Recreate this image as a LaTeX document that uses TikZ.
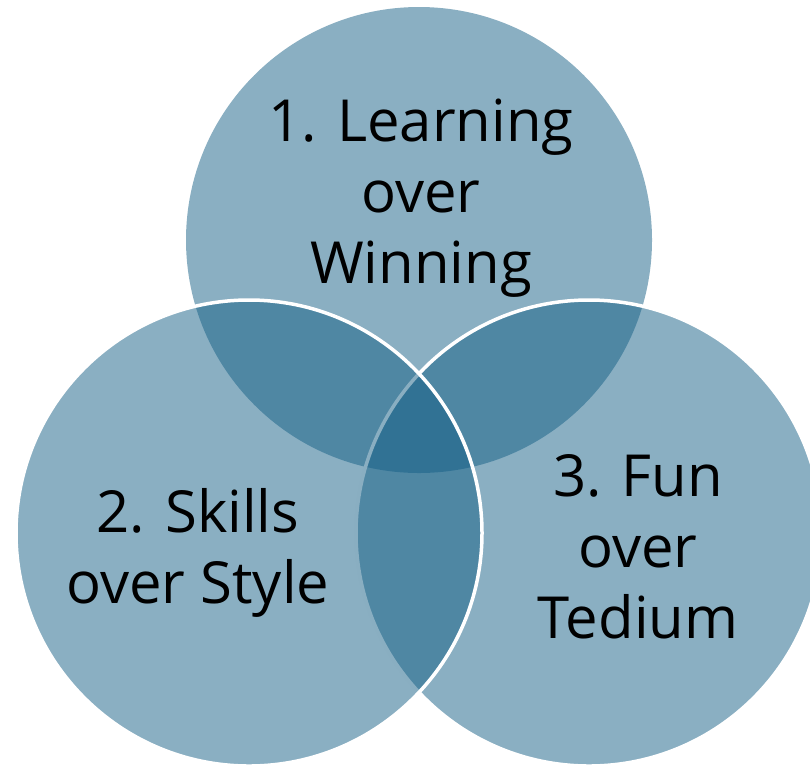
\documentclass[tikz,border=0pt]{standalone}
\usepackage{fontspec}
\setmainfont{Open Sans}
\definecolor{vennblue}{RGB}{21,95,133}
\begin{document}
\begin{tikzpicture}[x=1pt,y=-1pt,
  venn/.style={fill=vennblue,fill opacity=0.5},
  rim/.style={draw=white,line width=3.5pt},
  label/.style={align=center,anchor=base,text=black,
    font=\fontsize{58}{71}\selectfont}]
  \useasboundingbox (0,0) rectangle (810,764);
  % circles: top, right, left (left one drawn last so its rim stays on top)
  \path[venn] (419,240) circle[radius=233];
  \path[venn,rim] (589,533) circle[radius=233];
  \path[venn,rim] (249,533) circle[radius=233];
  % labels, placed by the baseline of their last line
  \node[label] (learn) at (421,283) {1. Learning\\over\\Winning};
  \node[label] (skills) at (198,603) {2. Skills\\over Style};
  \node[label] (fun) at (638,638) {3. Fun\\over\\Tedium};
\end{tikzpicture}
\end{document}
